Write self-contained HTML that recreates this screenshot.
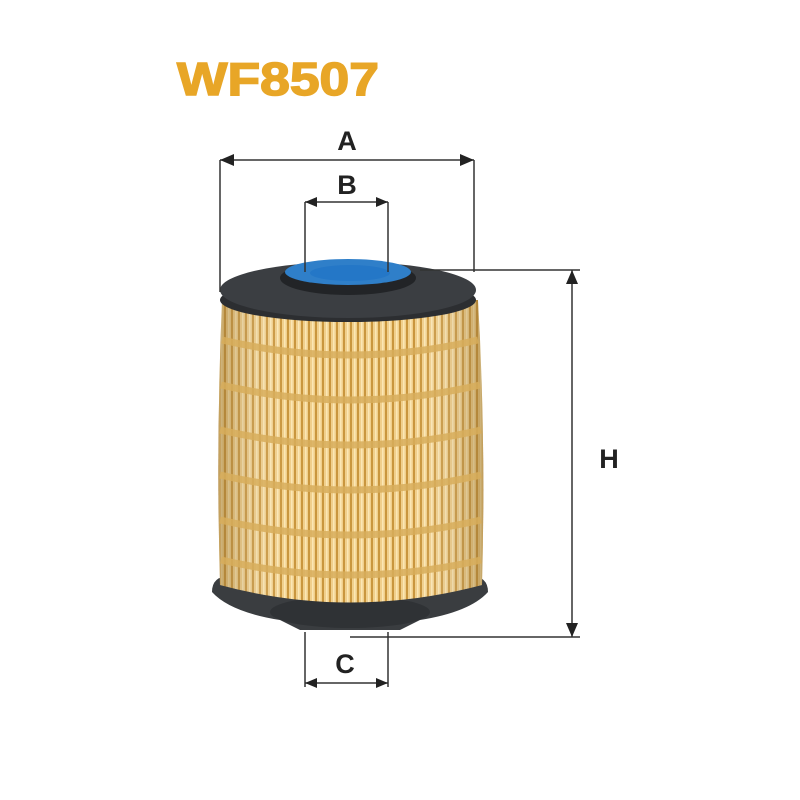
<!DOCTYPE html>
<html><head><style>body{margin:0;background:#fff}svg{display:block}</style></head><body>
<svg width="800" height="800" viewBox="0 0 800 800" xmlns="http://www.w3.org/2000/svg">
<defs>
<pattern id="pl" x="0" y="0" width="7" height="20" patternUnits="userSpaceOnUse">
<rect width="7" height="20" fill="#f0cf8c"/>
<rect x="0" width="2" height="20" fill="#c9963e"/>
<rect x="4" width="1.5" height="20" fill="#fbe7b5"/>
</pattern>
<linearGradient id="sh" x1="0" x2="1">
<stop offset="0" stop-color="#8a6420" stop-opacity=".45"/>
<stop offset=".25" stop-color="#fff" stop-opacity="0"/>
<stop offset=".75" stop-color="#fff" stop-opacity="0"/>
<stop offset="1" stop-color="#8a6420" stop-opacity=".45"/>
</linearGradient>
</defs>
<text x="177" y="95" font-family="Liberation Sans, sans-serif" font-weight="bold" font-size="46" fill="#e8a627" stroke="#e8a627" stroke-width="1.5" textLength="202" lengthAdjust="spacingAndGlyphs">WF8507</text>
<!-- bottom ring -->
<path d="M212,592 Q212,576 230,576 L470,576 Q488,576 488,592 Q470,612 420,620 L400,630 L300,630 L280,620 Q230,612 212,592Z" fill="#3a3d40"/>
<ellipse cx="350" cy="612" rx="80" ry="16" fill="#2f3235"/>
<!-- body -->
<path d="M222,300 Q216,440 220,585 Q350,620 482,585 Q486,440 478,300 Z" fill="url(#pl)"/>
<path d="M222,300 Q216,440 220,585 Q350,620 482,585 Q486,440 478,300 Z" fill="url(#sh)"/>
<g fill="none" stroke="#d8ae5c" stroke-width="7" opacity=".85">
<path d="M222,340 Q350,370 478,340"/>
<path d="M221,385 Q350,415 480,385"/>
<path d="M220,430 Q350,460 481,430"/>
<path d="M220,475 Q350,505 481,475"/>
<path d="M220,520 Q350,550 481,520"/>
<path d="M221,560 Q350,590 481,560"/>
</g>
<!-- top disc -->
<ellipse cx="348" cy="300" rx="128" ry="22" fill="#2c2e31"/>
<ellipse cx="348" cy="290" rx="128" ry="28" fill="#3b3e42"/>
<ellipse cx="348" cy="278" rx="68" ry="17" fill="#222427"/>
<ellipse cx="348" cy="272" rx="63" ry="13" fill="#2f7fc9"/>
<ellipse cx="350" cy="273" rx="40" ry="8" fill="#2477c7"/>
<!-- dimensions -->
<g stroke="#333" stroke-width="1.5" fill="none">
<path d="M220,160 V292 M474,160 V272 M220,160 H474"/>
<path d="M305,202 V272 M388,202 V272 M305,202 H388"/>
<path d="M420,270 H580 M350,637 H580 M572,270 V637"/>
<path d="M305,632 V687 M388,632 V687 M305,683 H388"/>
</g>
<g fill="#222">
<path d="M220,160 l14,-6 v12z M474,160 l-14,-6 v12z"/>
<path d="M305,202 l12,-5 v10z M388,202 l-12,-5 v10z"/>
<path d="M572,270 l-6,14 h12z M572,637 l-6,-14 h12z"/>
<path d="M305,683 l12,-5 v10z M388,683 l-12,-5 v10z"/>
</g>
<g font-family="Liberation Sans, sans-serif" font-weight="bold" font-size="27" fill="#222" text-anchor="middle">
<text x="347" y="150">A</text>
<text x="347" y="194">B</text>
<text x="609" y="468">H</text>
<text x="345" y="673">C</text>
</g>
</svg>
</body></html>
